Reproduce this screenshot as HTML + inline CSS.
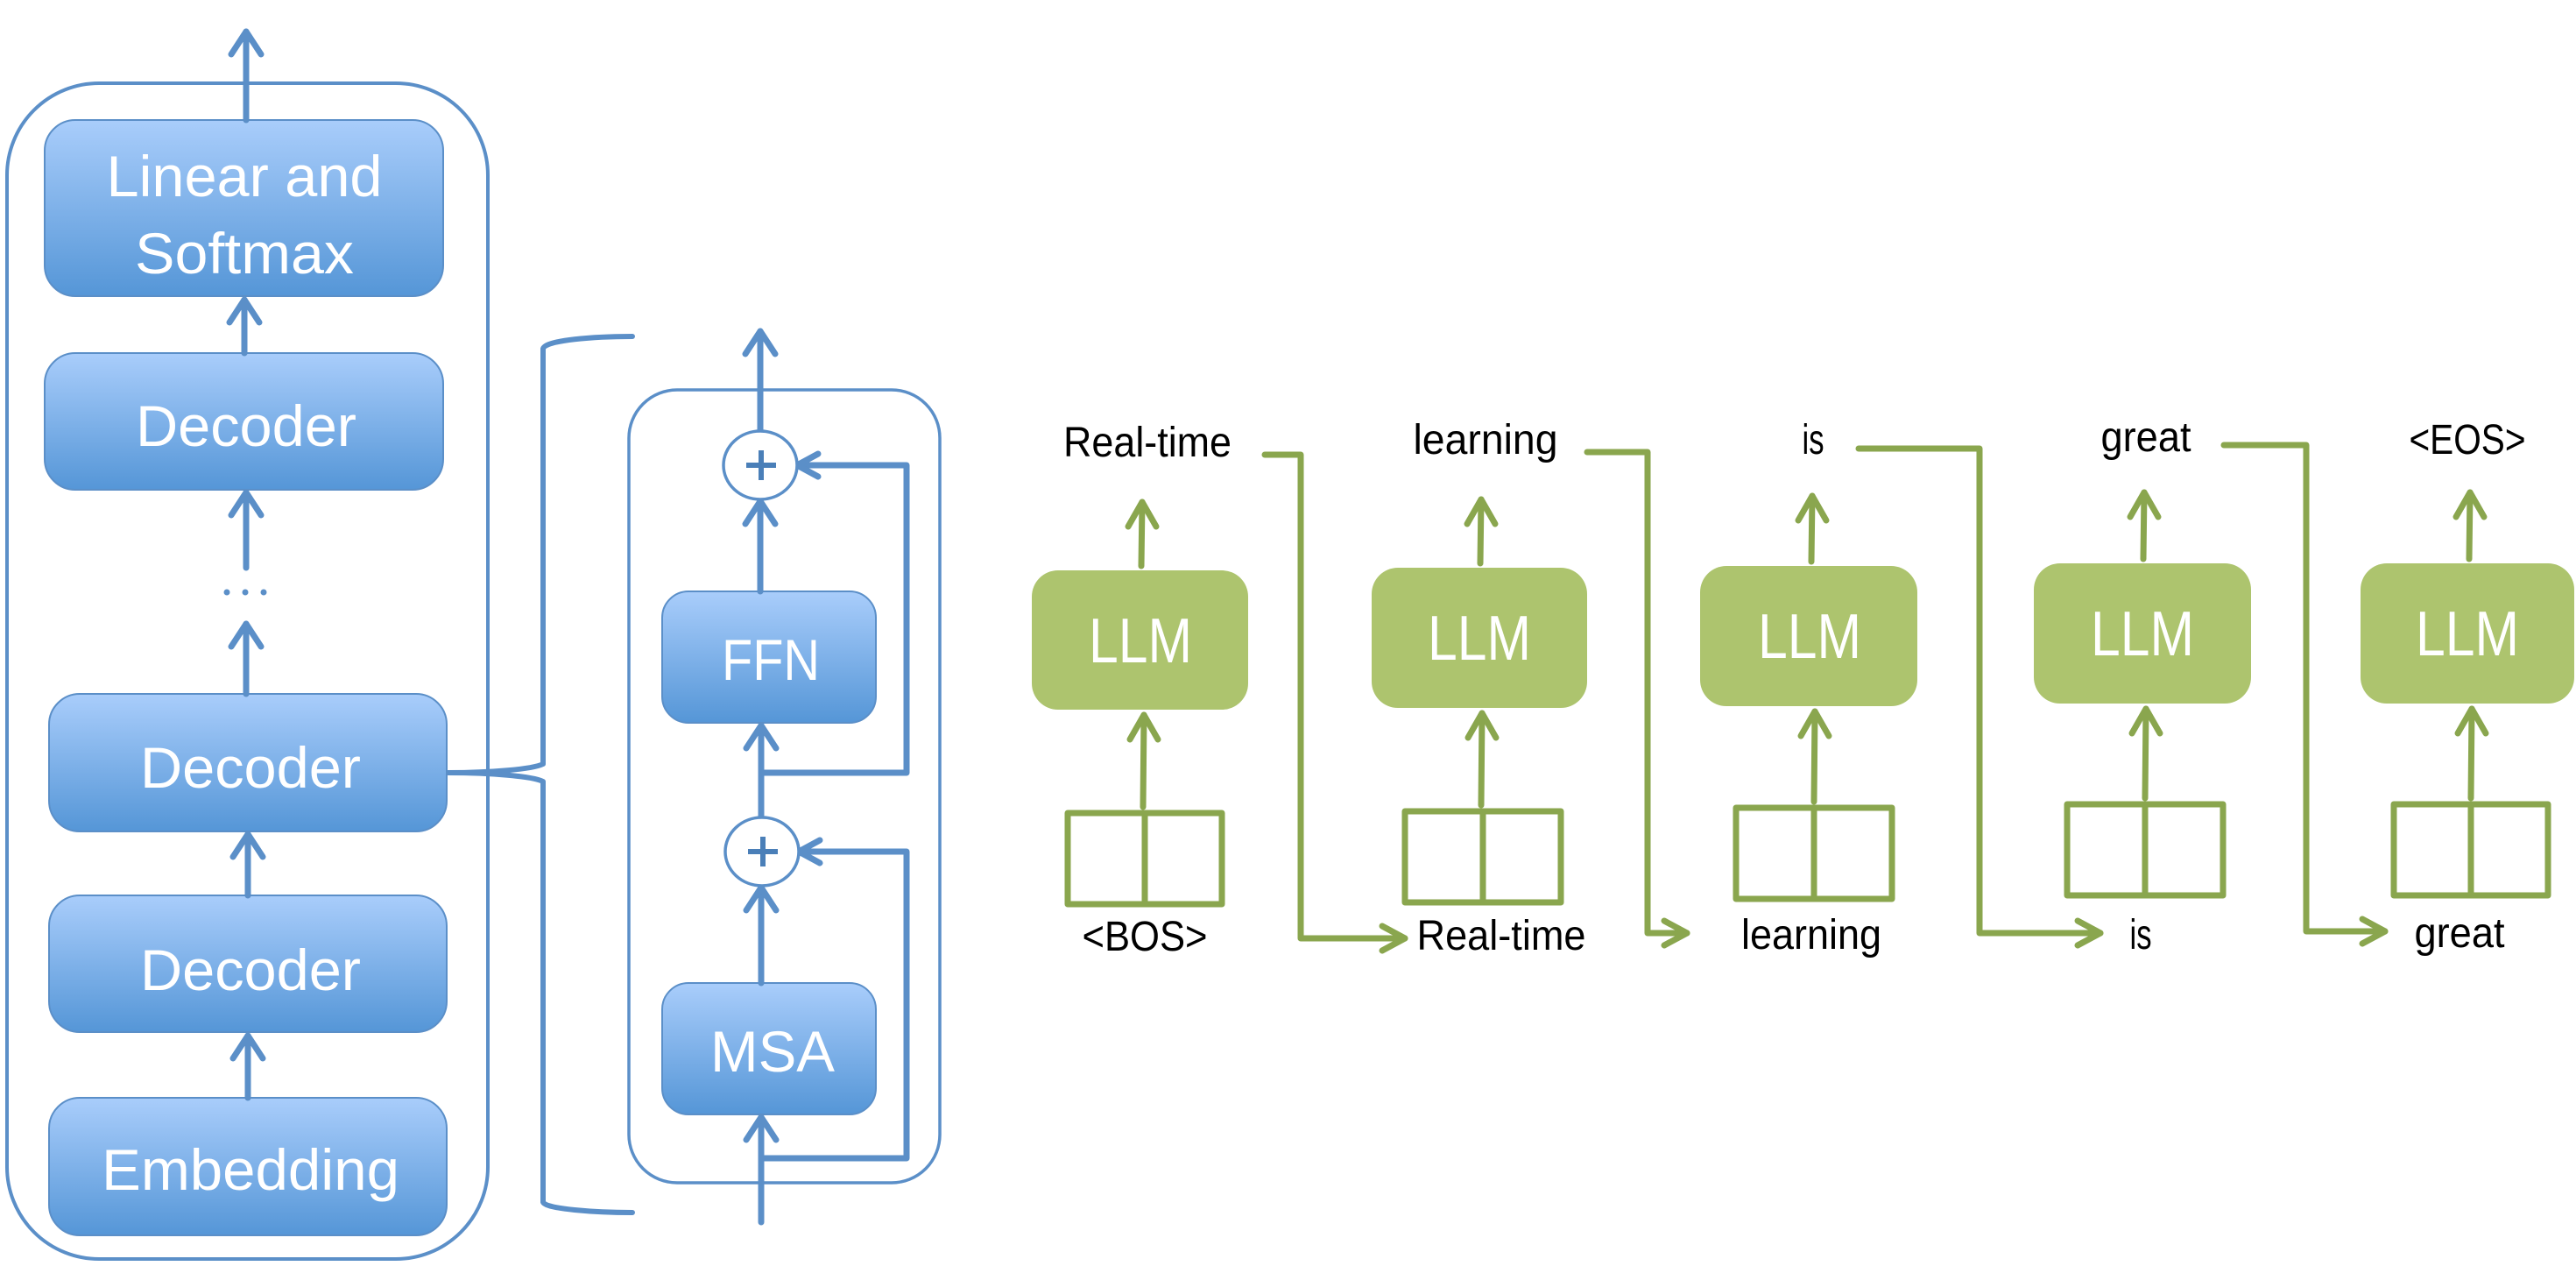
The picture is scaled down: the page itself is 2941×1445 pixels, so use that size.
<!DOCTYPE html>
<html><head><meta charset="utf-8"><style>html,body{margin:0;padding:0;background:#fff}svg{display:block}</style></head>
<body>
<svg width="2941" height="1445" viewBox="0 0 2941 1445" xmlns="http://www.w3.org/2000/svg" font-family="Liberation Sans, DejaVu Sans, sans-serif">
<defs>
<linearGradient id="bg" x1="0" y1="0" x2="0" y2="1">
<stop offset="0" stop-color="#a9cdfb"/><stop offset="1" stop-color="#5596d7"/>
</linearGradient>
</defs>
<g stroke="#5b8fc8" fill="none" stroke-linecap="round" stroke-linejoin="round">
<rect x="8" y="95" width="549" height="1342" rx="105" stroke-width="4"/>
<rect x="718" y="445" width="355" height="905" rx="55" stroke-width="3.5"/>
</g>
<g stroke="#5b8fc8" stroke-width="2" fill="url(#bg)">
<rect x="51" y="137" width="455" height="201" rx="35"/>
<rect x="51" y="403" width="455" height="156" rx="35"/>
<rect x="56" y="792" width="454" height="157" rx="35"/>
<rect x="56" y="1022" width="454" height="156" rx="35"/>
<rect x="56" y="1253" width="454" height="157" rx="35"/>
<rect x="756" y="675" width="244" height="150" rx="30"/>
<rect x="756" y="1122" width="244" height="150" rx="30"/>
</g>
<g stroke="#5b8fc8" stroke-width="7" fill="none" stroke-linecap="round" stroke-linejoin="round">
<line x1="281" y1="137" x2="281" y2="36"/><polyline points="264,62 281,36 298,62"/>
<line x1="279" y1="403" x2="279" y2="342"/><polyline points="262,368 279,342 296,368"/>
<line x1="281" y1="648" x2="281" y2="562"/><polyline points="264,588 281,562 298,588"/>
<line x1="281" y1="792" x2="281" y2="712"/><polyline points="264,738 281,712 298,738"/>
<line x1="283" y1="1022" x2="283" y2="952"/><polyline points="266,978 283,952 300,978"/>
<line x1="283" y1="1253" x2="283" y2="1182"/><polyline points="266,1208 283,1182 300,1208"/>
<path d="M512,882 C560,882 608,878 620,872 L620,398 C622,388 680,384 722,384" stroke-width="6"/>
<path d="M512,882 C560,882 608,886 620,892 L620,1372 C622,1380 680,1384 722,1384" stroke-width="6"/>
<line x1="868" y1="491" x2="868" y2="378"/><polyline points="851,404 868,378 885,404"/>
<line x1="868" y1="675" x2="868" y2="572"/><polyline points="851,598 868,572 885,598"/>
<line x1="869" y1="932" x2="869" y2="828"/><polyline points="852,854 869,828 886,854"/>
<line x1="869" y1="1122" x2="869" y2="1013"/><polyline points="852,1039 869,1013 886,1039"/>
<line x1="869" y1="1395" x2="869" y2="1275"/><polyline points="852,1301 869,1275 886,1301"/>
<polyline points="870,882 1035,882 1035,531 910,531"/><polyline points="934,518 910,531 934,544"/>
<polyline points="870,1322 1035,1322 1035,972 912,972"/><polyline points="936,959 912,972 936,985"/>
</g>
<g stroke="#5b8fc8" stroke-width="3.5" fill="#fff">
<ellipse cx="868" cy="531" rx="42" ry="39"/>
<ellipse cx="870" cy="972" rx="42" ry="39"/>
</g>
<g stroke="#4a7fb8" stroke-width="6">
<line x1="852" y1="531" x2="886" y2="531"/><line x1="869" y1="514" x2="869" y2="548"/>
<line x1="854" y1="972" x2="888" y2="972"/><line x1="871" y1="955" x2="871" y2="989"/>
</g>
<g fill="#fff" font-size="66" text-anchor="middle">
<text x="279" y="224" textLength="315" lengthAdjust="spacingAndGlyphs">Linear and</text>
<text x="279" y="312" textLength="250" lengthAdjust="spacingAndGlyphs">Softmax</text>
<text x="281" y="509" textLength="252" lengthAdjust="spacingAndGlyphs">Decoder</text>
<text x="286" y="899" textLength="252" lengthAdjust="spacingAndGlyphs">Decoder</text>
<text x="286" y="1130" textLength="252" lengthAdjust="spacingAndGlyphs">Decoder</text>
<text x="286" y="1358" textLength="340" lengthAdjust="spacingAndGlyphs">Embedding</text>
<text x="880" y="776" textLength="112" lengthAdjust="spacingAndGlyphs">FFN</text>
<text x="882" y="1223" textLength="142" lengthAdjust="spacingAndGlyphs">MSA</text>
</g>
<g fill="#5b8fc8"><circle cx="259" cy="676" r="3.5"/><circle cx="280" cy="676" r="3.5"/><circle cx="301" cy="676" r="3.5"/></g>

<g fill="#adc46e">
<rect x="1178" y="651" width="247" height="159" rx="30"/>
<rect x="1566" y="648" width="246" height="160" rx="30"/>
<rect x="1941" y="646" width="248" height="160" rx="30"/>
<rect x="2322" y="643" width="248" height="160" rx="30"/>
<rect x="2695" y="643" width="244" height="160" rx="30"/>
</g>
<g fill="#fff" font-size="72" text-anchor="middle">
<text x="1302" y="756" textLength="118" lengthAdjust="spacingAndGlyphs">LLM</text>
<text x="1689" y="753" textLength="118" lengthAdjust="spacingAndGlyphs">LLM</text>
<text x="2066" y="751" textLength="118" lengthAdjust="spacingAndGlyphs">LLM</text>
<text x="2446" y="748" textLength="118" lengthAdjust="spacingAndGlyphs">LLM</text>
<text x="2817" y="748" textLength="118" lengthAdjust="spacingAndGlyphs">LLM</text>
</g>
<g stroke="#8aa64e" stroke-width="7" fill="none" stroke-linecap="round" stroke-linejoin="round">
<rect x="1219" y="928" width="176" height="104"/><line x1="1307" y1="928" x2="1307" y2="1032"/>
<rect x="1604" y="926" width="178" height="104"/><line x1="1693" y1="926" x2="1693" y2="1030"/>
<rect x="1982" y="922" width="178" height="104"/><line x1="2071" y1="922" x2="2071" y2="1026"/>
<rect x="2360" y="918" width="178" height="104"/><line x1="2449" y1="918" x2="2449" y2="1022"/>
<rect x="2733" y="918" width="176" height="104"/><line x1="2821" y1="918" x2="2821" y2="1022"/>
<line x1="1305" y1="921" x2="1306" y2="816"/><polyline points="1290,844 1306,816 1322,844"/>
<line x1="1691" y1="919" x2="1692" y2="814"/><polyline points="1676,842 1692,814 1708,842"/>
<line x1="2071" y1="915" x2="2072" y2="812"/><polyline points="2056,840 2072,812 2088,840"/>
<line x1="2449" y1="911" x2="2450" y2="809"/><polyline points="2434,837 2450,809 2466,837"/>
<line x1="2821" y1="911" x2="2822" y2="809"/><polyline points="2806,837 2822,809 2838,837"/>
<line x1="1303" y1="646" x2="1304" y2="573"/><polyline points="1288,601 1304,573 1320,601"/>
<line x1="1690" y1="643" x2="1691" y2="570"/><polyline points="1675,598 1691,570 1707,598"/>
<line x1="2068" y1="641" x2="2069" y2="566"/><polyline points="2053,594 2069,566 2085,594"/>
<line x1="2447" y1="638" x2="2448" y2="562"/><polyline points="2432,590 2448,562 2464,590"/>
<line x1="2819" y1="638" x2="2820" y2="562"/><polyline points="2804,590 2820,562 2836,590"/>
<polyline points="1444,519 1485,519 1485,1071 1604,1071"/><polyline points="1578,1057 1604,1071 1578,1085"/>
<polyline points="1812,516 1881,516 1881,1065 1926,1065"/><polyline points="1900,1051 1926,1065 1900,1079"/>
<polyline points="2122,512 2260,512 2260,1065 2398,1065"/><polyline points="2372,1051 2398,1065 2372,1079"/>
<polyline points="2539,508 2633,508 2633,1063 2723,1063"/><polyline points="2697,1049 2723,1063 2697,1077"/>
</g>
<g fill="#000" font-size="48" text-anchor="middle">
<text x="1310" y="521" textLength="192" lengthAdjust="spacingAndGlyphs">Real-time</text>
<text x="1696" y="518" textLength="165" lengthAdjust="spacingAndGlyphs">learning</text>
<text x="2070" y="518" textLength="25" lengthAdjust="spacingAndGlyphs">is</text>
<text x="2450" y="515" textLength="103" lengthAdjust="spacingAndGlyphs">great</text>
<text x="2817" y="518" textLength="133" lengthAdjust="spacingAndGlyphs">&lt;EOS&gt;</text>
<text x="1307" y="1085" textLength="143" lengthAdjust="spacingAndGlyphs">&lt;BOS&gt;</text>
<text x="1714" y="1084" textLength="193" lengthAdjust="spacingAndGlyphs">Real-time</text>
<text x="2068" y="1083" textLength="160" lengthAdjust="spacingAndGlyphs">learning</text>
<text x="2444" y="1083" textLength="25" lengthAdjust="spacingAndGlyphs">is</text>
<text x="2808" y="1081" textLength="103" lengthAdjust="spacingAndGlyphs">great</text>
</g>
</svg>
</body></html>
